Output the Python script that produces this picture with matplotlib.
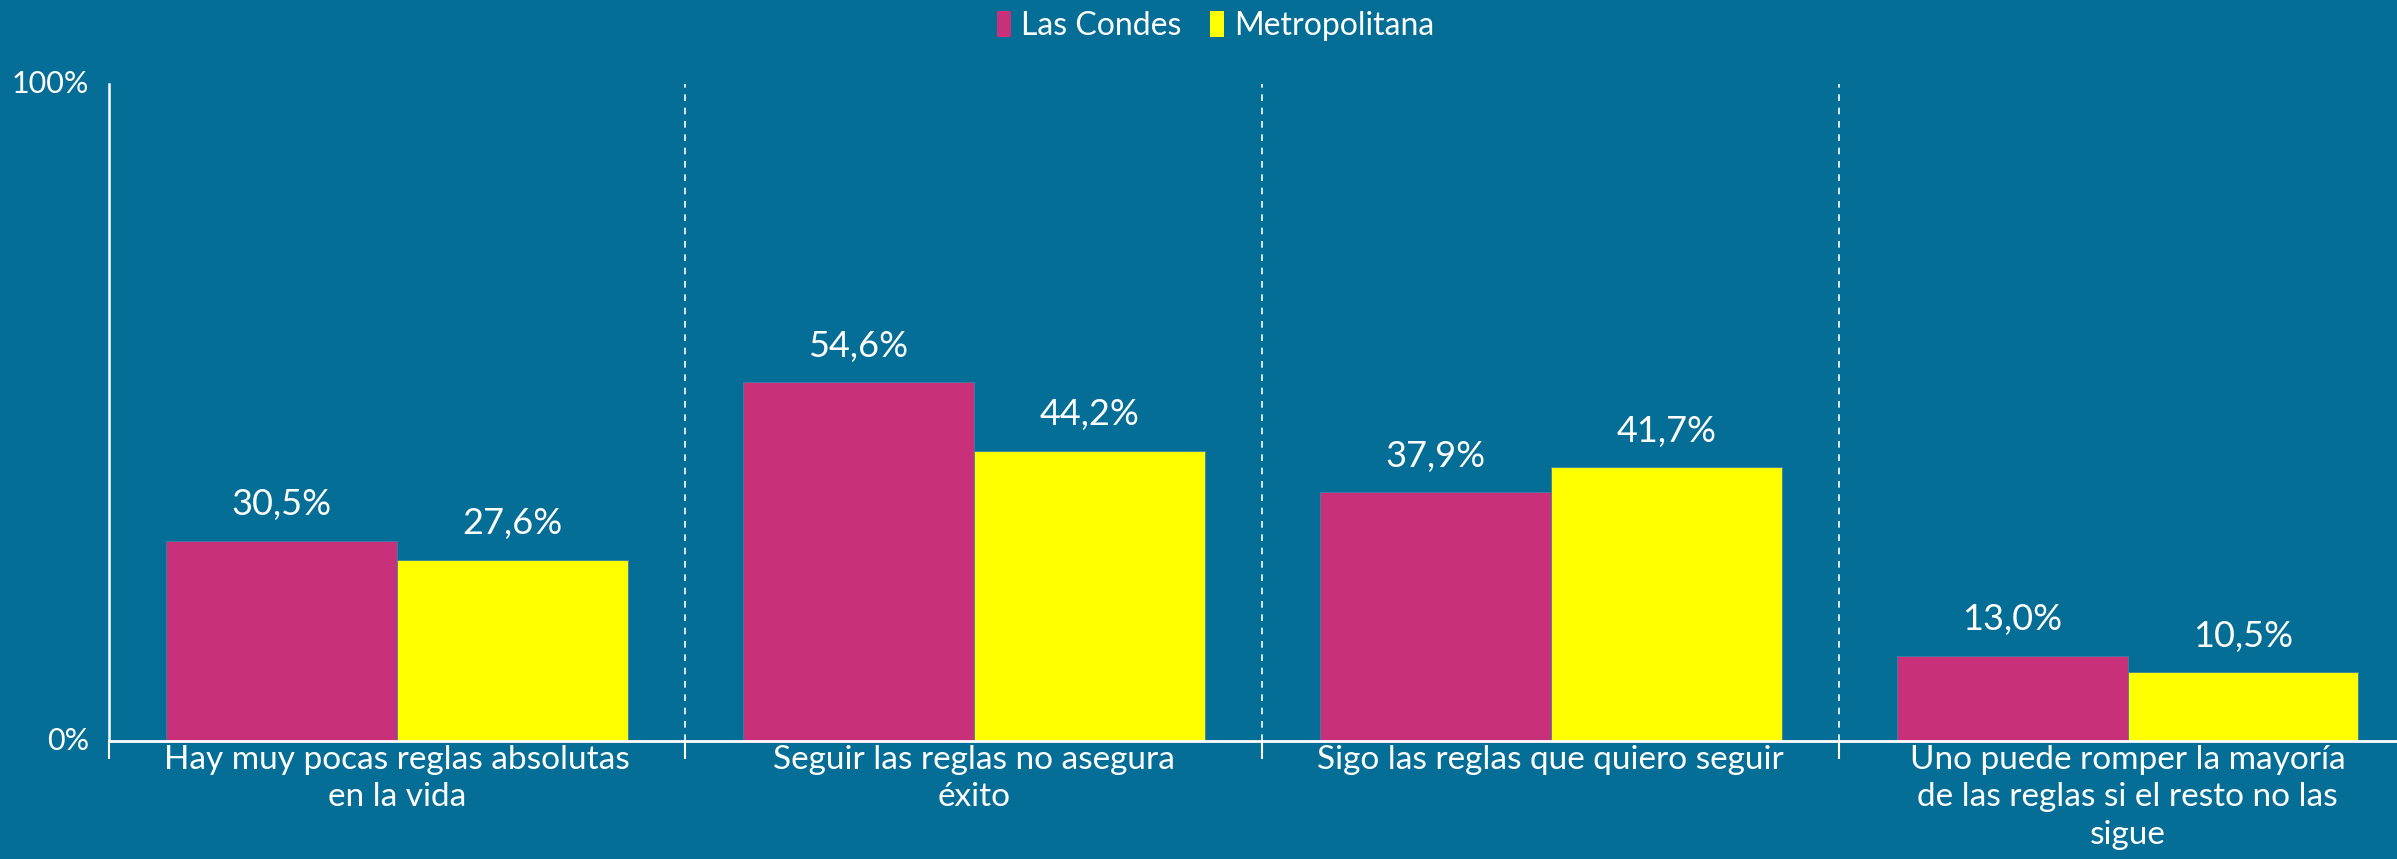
import matplotlib
matplotlib.use("Agg")
import matplotlib.pyplot as plt
import numpy as np

categories = [
    "Hay muy pocas reglas absolutas\nen la vida",
    "Seguir las reglas no asegura\néxito",
    "Sigo las reglas que quiero seguir",
    "Uno puede romper la mayoría\nde las reglas si el resto no las\nsigue",
]
series_names = ["Las Condes", "Metropolitana"]
las_condes = [30.5, 54.6, 37.9, 13.0]
metropolitana = [27.6, 44.2, 41.7, 10.5]
y_ticks = [0, 100]
y_tick_labels = ["0%", "100%"]

BG = "#046E96"
PINK = "#C8307A"
YELLOW = "#FFFF00"
WHITE = "white"
FONT = "Lato"

plt.rcParams["font.family"] = [FONT, "DejaVu Sans"]

fig = plt.figure(figsize=(23.97, 8.59), dpi=100, facecolor=BG)
ax = fig.add_axes([0.0453, 0.1374, 1.008 - 0.0453, 0.9022 - 0.1374])
ax.set_facecolor(BG)

x = np.arange(len(categories))
w = 0.4
b1 = ax.bar(x - w / 2, las_condes, w, color=PINK, label=series_names[0], edgecolor="#3f7fa6", linewidth=0.6)
b2 = ax.bar(x + w / 2, metropolitana, w, color=YELLOW, label=series_names[1], edgecolor="#3f7fa6", linewidth=0.6)

for bars, vals in ((b1, las_condes), (b2, metropolitana)):
    for rect, v in zip(bars, vals):
        ax.annotate(f"{v:.1f}".replace(".", ",") + "%",
                    (rect.get_x() + rect.get_width() / 2, rect.get_height()),
                    xytext=(0, 14), textcoords="offset points",
                    ha="center", va="bottom", color=WHITE, fontsize=26)

ax.set_xlim(-0.5, len(categories) - 0.5)
ax.set_ylim(0, 100)

# separators
for b in np.arange(0.5, len(categories) - 0.5, 1):
    ax.axvline(b, ymin=0, ymax=1, color=WHITE, linestyle=(0, (4, 4)), linewidth=1.2)

ax.set_xticks(np.arange(-0.5, len(categories), 1))
ax.set_xticklabels([])
ax.tick_params(axis="x", which="major", length=13, width=1.5, color=WHITE, direction="out")
ax.set_xticks(x, minor=True)
ax.set_xticklabels(categories, minor=True, color=WHITE, fontsize=24, linespacing=1.3)
ax.tick_params(axis="x", which="minor", length=0, pad=3)

ax.set_yticks(y_ticks)
ax.set_yticklabels(y_tick_labels, color=WHITE, fontsize=22)
ax.tick_params(axis="y", length=0, pad=14)
for lab in ax.get_yticklabels():
    lab.set_verticalalignment("center")

for s in ("top", "right"):
    ax.spines[s].set_visible(False)
ax.spines["left"].set_color(WHITE)
ax.spines["left"].set_linewidth(1.8)
ax.spines["bottom"].set_color(WHITE)
ax.spines["bottom"].set_linewidth(2)

leg = fig.legend(handles=[b1, b2], labels=series_names, loc="center", bbox_to_anchor=(0.507, 0.97),
                 ncol=2, frameon=False, fontsize=23, handlelength=0.45, handleheight=0.9,
                 handletextpad=0.3, columnspacing=0.9, borderaxespad=0)
for t in leg.get_texts():
    t.set_color(WHITE)
for h in leg.legend_handles:
    h.set_linewidth(0)

fig.savefig("out.png", dpi=100, facecolor=BG)
